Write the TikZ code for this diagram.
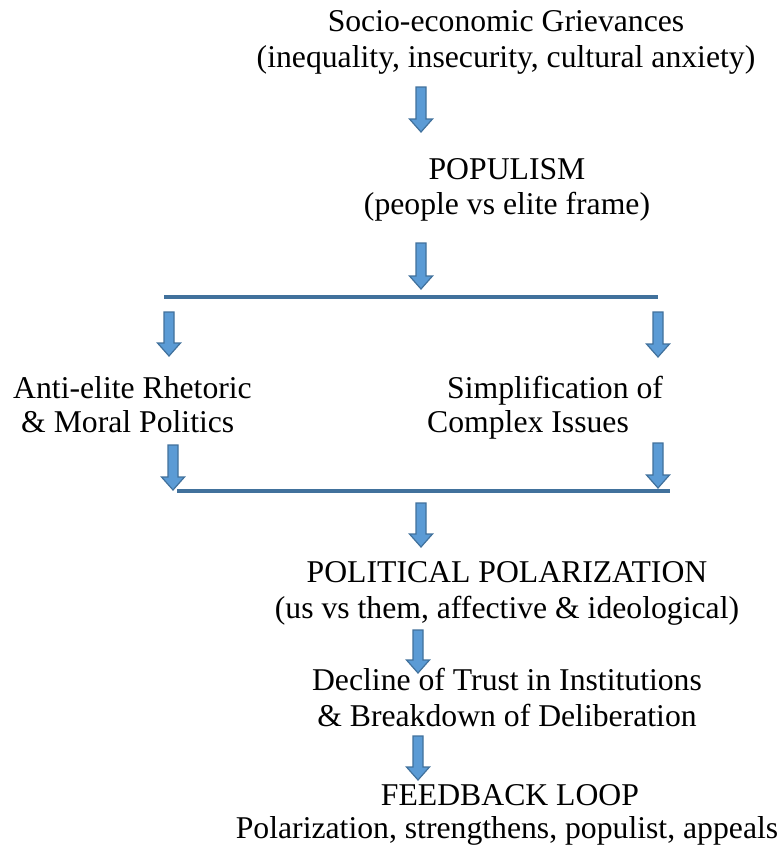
\documentclass[tikz,border=0pt]{standalone}
\usepackage{fontspec}
\setmainfont{Liberation Serif}
\definecolor{arrfill}{HTML}{5B9BD5}
\definecolor{arrdraw}{HTML}{41719C}
\definecolor{barcol}{HTML}{41719C}
\newcommand\blockarr[3]{%
  \fill[arrfill,draw=arrdraw,line width=1.2pt,line join=miter]
    ({#1-5},#2) -- ({#1+5},#2) -- ({#1+5},{#3-13}) -- ({#1+11.5},{#3-13})
    -- (#1,#3) -- ({#1-11.5},{#3-13}) -- ({#1-5},{#3-13}) -- cycle;}
\begin{document}
\begin{tikzpicture}[x=1pt,y=-1pt,
  txt/.style={inner sep=0pt,font=\fontsize{31.7}{38}\selectfont},
  bar/.style={draw=barcol,line width=4pt}]
\useasboundingbox[fill=white] (0,0) rectangle (782,846);
% texts
\node[txt,anchor=base] (g1) at (506,31) {Socio-economic Grievances};
\node[txt,anchor=base] (g2) at (506,67) {(inequality, insecurity, cultural anxiety)};
\node[txt,anchor=base] (p1) at (507,179) {POPULISM};
\node[txt,anchor=base] (p2) at (507,214) {(people vs elite frame)};
\node[txt,anchor=base west] (l1) at (13,398) {Anti-elite Rhetoric};
\node[txt,anchor=base west] (l2) at (21,432) {\& Moral Politics};
\node[txt,anchor=base west] (r1) at (447,398) {Simplification of};
\node[txt,anchor=base west] (r2) at (427,432) {Complex Issues};
\node[txt,anchor=base] (q1) at (507,582) {POLITICAL POLARIZATION};
\node[txt,anchor=base] (q2) at (507,618) {(us vs them, affective \& ideological)};
\node[txt,anchor=base] (d1) at (507,690) {Decline of Trust in Institutions};
\node[txt,anchor=base] (d2) at (507,726) {\& Breakdown of Deliberation};
\node[txt,anchor=base] (f1) at (510,805) {FEEDBACK LOOP};
\node[txt,anchor=base] (f2) at (507,838) {Polarization, strengthens, populist, appeals};
% split / merge bars
\coordinate (s1) at (164,297);
\coordinate (s2) at (658,297);
\coordinate (m1) at (177,491);
\coordinate (m2) at (670,491);
\draw[bar] (s1) -- (s2);
\draw[bar] (m1) -- (m2);
% block arrows
\blockarr{421}{87}{132}
\blockarr{421}{243}{289}
\blockarr{169}{312}{356}
\blockarr{658}{312}{357}
\blockarr{173}{445}{490}
\blockarr{658}{443}{488}
\blockarr{421}{503}{547}
\blockarr{418}{630}{673}
\blockarr{418}{736}{780}
\end{tikzpicture}
\end{document}
